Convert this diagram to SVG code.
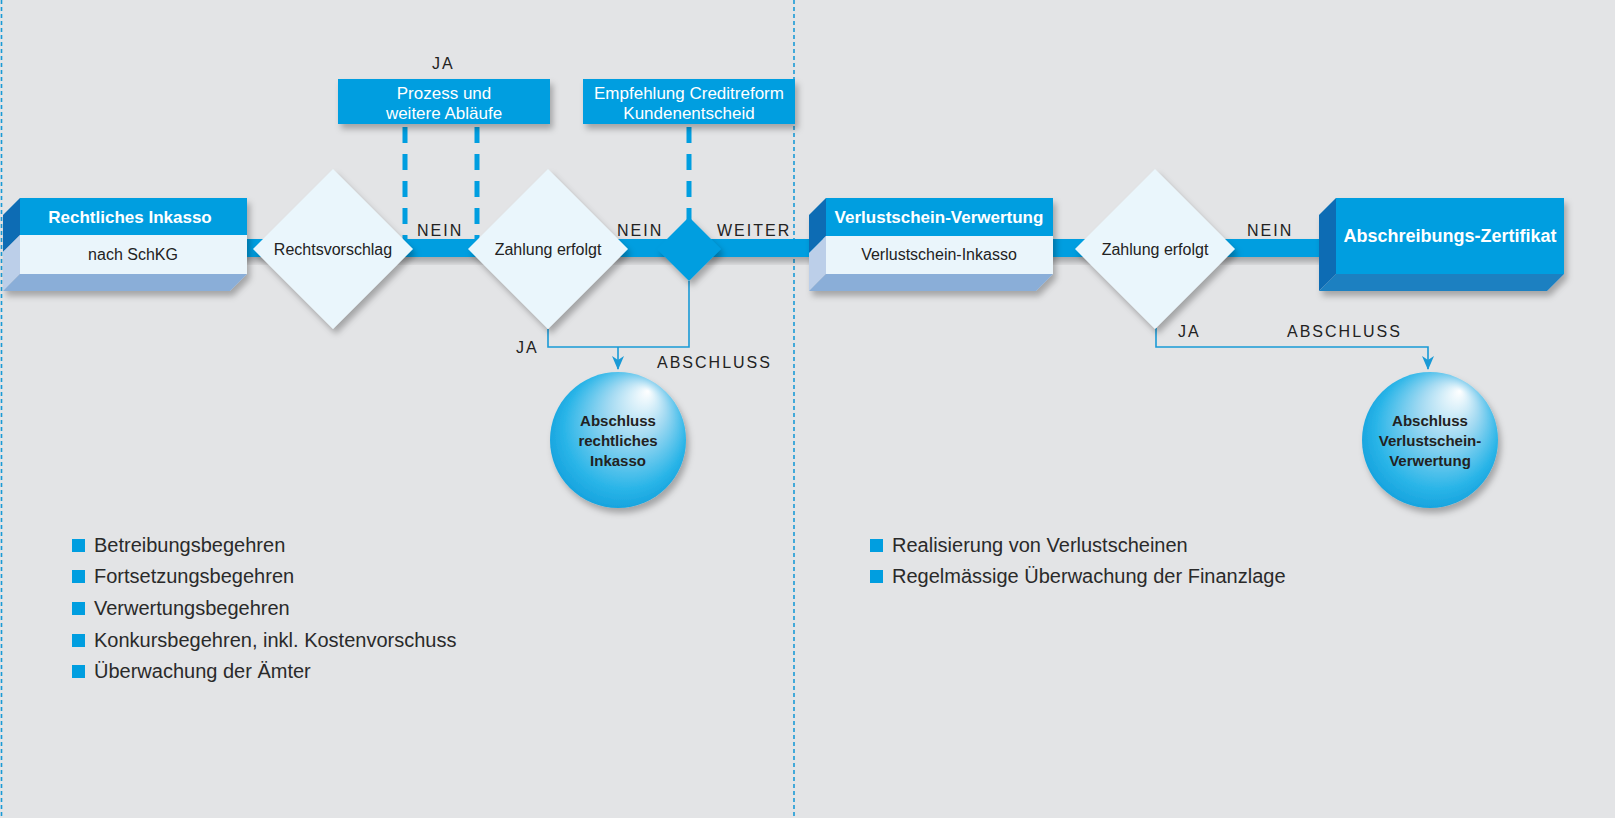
<svg xmlns="http://www.w3.org/2000/svg" width="1615" height="818" viewBox="0 0 1615 818">
<defs>
<style>
.bg{fill:#e3e4e6}
.sep{stroke:#1a9ad6;stroke-width:1.6;stroke-dasharray:4 3;fill:none}
.main{fill:#009ee0}
.dash{stroke:#009ee0;stroke-width:5;stroke-dasharray:16 11;fill:none}
.thin{stroke:#1a9ad6;stroke-width:1.6;fill:none}
.dia{fill:#eaf6fc}
.head{fill:#009ee0}
.body{fill:#eaf5fb}
.sideD{fill:#0a6cb4}
.sideL{fill:#bccfe9}
.bot{fill:#8aaed8}
.bot2{fill:#1f80c1}
.lbl{font-family:"Liberation Sans",Arial,sans-serif;font-size:16px;fill:#222;letter-spacing:2px}
.t{font-family:"Liberation Sans",Arial,sans-serif;font-size:16px;fill:#222;text-anchor:middle}
.tw{font-family:"Liberation Sans",Arial,sans-serif;font-size:17px;fill:#fff;text-anchor:middle}
.tb{font-family:"Liberation Sans",Arial,sans-serif;font-size:17px;font-weight:bold;fill:#fff;text-anchor:middle}
.tc{font-family:"Liberation Sans",Arial,sans-serif;font-size:15px;font-weight:bold;fill:#222;text-anchor:middle}
.bl{font-family:"Liberation Sans",Arial,sans-serif;font-size:20px;fill:#2a2a2a}
.sq{fill:#009ee0}
</style>
<filter id="sh" x="-20%" y="-20%" width="150%" height="160%">
<feDropShadow dx="3" dy="5" stdDeviation="3" flood-color="#000" flood-opacity="0.28"/>
</filter>
<radialGradient id="ball" cx="0.5" cy="0.5" r="0.6" fx="0.72" fy="0.14">
<stop offset="0" stop-color="#ffffff"/>
<stop offset="0.35" stop-color="#a3daf2"/>
<stop offset="0.75" stop-color="#2ab5e8"/>
<stop offset="1" stop-color="#0a98d8"/>
</radialGradient>
<marker id="arr" viewBox="0 0 14 12" refX="13" refY="6" markerWidth="14" markerHeight="12" markerUnits="userSpaceOnUse" orient="auto">
<path d="M0,0 L14,6 L0,12 L4,6 Z" fill="#1a9ad6"/>
</marker>
</defs>
<rect class="bg" x="0" y="0" width="1615" height="818"/>
<g id="separators">
<line class="sep" x1="1.5" y1="0" x2="1.5" y2="818"/>
<line class="sep" x1="794" y1="0" x2="794" y2="818"/>
</g>
<g id="connectors">
<rect class="main" x="20" y="239" width="1310" height="18" filter="url(#sh)"/>
<line class="dash" x1="405" y1="127" x2="405" y2="239"/>
<line class="dash" x1="477" y1="127" x2="477" y2="239"/>
<line class="dash" x1="689" y1="127" x2="689" y2="220"/>
<path class="thin" d="M548,329 V347 H689 V281"/>
<path class="thin" d="M618,347 V369" marker-end="url(#arr)"/>
<path class="thin" d="M1156,328 V347 H1428 V369" marker-end="url(#arr)"/>
</g>
<g id="labels">
<text class="lbl" x="432" y="69">JA</text>
<text class="lbl" x="417" y="236">NEIN</text>
<text class="lbl" x="617" y="236">NEIN</text>
<text class="lbl" x="717" y="236">WEITER</text>
<text class="lbl" x="516" y="353">JA</text>
<text class="lbl" x="657" y="368">ABSCHLUSS</text>
<text class="lbl" x="1247" y="236">NEIN</text>
<text class="lbl" x="1178" y="337">JA</text>
<text class="lbl" x="1287" y="337">ABSCHLUSS</text>
</g>
<g id="node-rechtliches-inkasso">
<g filter="url(#sh)">
<polygon class="sideD" points="20,198 20,235 3,252 3,215"/>
<polygon class="sideL" points="20,235 20,274 3,291 3,252"/>
<polygon class="bot" points="20,274 247,274 230,291 3,291"/>
<rect class="head" x="20" y="198" width="227" height="37"/>
<rect class="body" x="20" y="235" width="227" height="39"/>
</g>
<text class="tb" x="130" y="223">Rechtliches Inkasso</text>
<text class="t" x="133" y="260">nach SchKG</text>
</g>
<g id="node-rechtsvorschlag">
<polygon class="dia" points="333,169 413,249 333,329 253,249" filter="url(#sh)"/>
<text class="t" x="333" y="255">Rechtsvorschlag</text>
</g>
<g id="node-prozess">
<rect class="head" x="338" y="79" width="212" height="45" filter="url(#sh)"/>
<text class="tw" x="444" y="99">Prozess und</text>
<text class="tw" x="444" y="119">weitere Abläufe</text>
</g>
<g id="node-zahlung-1">
<polygon class="dia" points="548,169 628,249 548,329 468,249" filter="url(#sh)"/>
<text class="t" x="548" y="255">Zahlung erfolgt</text>
</g>
<g id="node-empfehlung">
<rect class="head" x="583" y="79" width="212" height="45" filter="url(#sh)"/>
<text class="tw" x="689" y="99">Empfehlung Creditreform</text>
<text class="tw" x="689" y="119">Kundenentscheid</text>
</g>
<g id="node-entscheid">
<polygon class="main" points="689,217 721,249 689,281 657,249" filter="url(#sh)"/>
</g>
<g id="node-abschluss-rechtlich">
<circle cx="618" cy="440" r="68" fill="url(#ball)" filter="url(#sh)"/>
<text class="tc" x="618" y="426">Abschluss</text>
<text class="tc" x="618" y="446">rechtliches</text>
<text class="tc" x="618" y="466">Inkasso</text>
</g>
<g id="node-verlustschein-verwertung">
<g filter="url(#sh)">
<polygon class="sideD" points="826,198 826,236 809,253 809,215"/>
<polygon class="sideL" points="826,236 826,274 809,291 809,253"/>
<polygon class="bot" points="826,274 1053,274 1036,291 809,291"/>
<rect class="head" x="826" y="198" width="227" height="38"/>
<rect class="body" x="826" y="236" width="227" height="38"/>
</g>
<text class="tb" x="939" y="223">Verlustschein-Verwertung</text>
<text class="t" x="939" y="260">Verlustschein-Inkasso</text>
</g>
<g id="node-zahlung-2">
<polygon class="dia" points="1155,169 1235,249 1155,329 1075,249" filter="url(#sh)"/>
<text class="t" x="1155" y="255">Zahlung erfolgt</text>
</g>
<g id="node-abschreibungs-zertifikat">
<g filter="url(#sh)">
<polygon class="sideD" points="1336,198 1336,274 1319,291 1319,215"/>
<polygon class="bot2" points="1336,274 1564,274 1547,291 1319,291"/>
<rect class="head" x="1336" y="198" width="228" height="76"/>
</g>
<text class="tb" x="1450" y="242" style="font-size:18px">Abschreibungs-Zertifikat</text>
</g>
<g id="node-abschluss-verlustschein">
<circle cx="1430" cy="440" r="68" fill="url(#ball)" filter="url(#sh)"/>
<text class="tc" x="1430" y="426">Abschluss</text>
<text class="tc" x="1430" y="446">Verlustschein-</text>
<text class="tc" x="1430" y="466">Verwertung</text>
</g>
<g id="list-left">
<rect class="sq" x="72" y="539" width="13" height="13"/>
<text class="bl" x="94" y="552">Betreibungsbegehren</text>
<rect class="sq" x="72" y="570" width="13" height="13"/>
<text class="bl" x="94" y="583">Fortsetzungsbegehren</text>
<rect class="sq" x="72" y="602" width="13" height="13"/>
<text class="bl" x="94" y="615">Verwertungsbegehren</text>
<rect class="sq" x="72" y="634" width="13" height="13"/>
<text class="bl" x="94" y="647">Konkursbegehren, inkl. Kostenvorschuss</text>
<rect class="sq" x="72" y="665" width="13" height="13"/>
<text class="bl" x="94" y="678">Überwachung der Ämter</text>
</g>
<g id="list-right">
<rect class="sq" x="870" y="539" width="13" height="13"/>
<text class="bl" x="892" y="552">Realisierung von Verlustscheinen</text>
<rect class="sq" x="870" y="570" width="13" height="13"/>
<text class="bl" x="892" y="583">Regelmässige Überwachung der Finanzlage</text>
</g>
</svg>
